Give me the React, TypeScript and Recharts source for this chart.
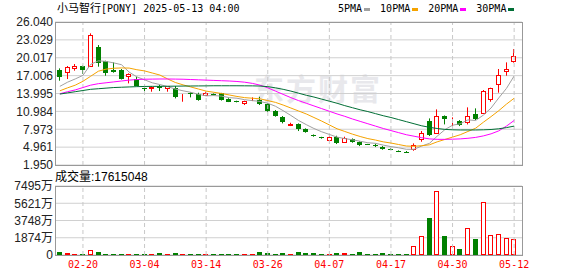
import React from 'react';
import { ComposedChart, Bar, Line, XAxis, YAxis, CartesianGrid, ReferenceLine } from 'recharts';

const RED = '#FF0000';
const GREEN = '#008000';

const dates = [
  '02-14', '02-18', '02-19', '02-20', '02-21', '02-24', '02-25', '02-26', '02-27', '02-28',
  '03-03', '03-04', '03-05', '03-06', '03-07', '03-10', '03-11', '03-12', '03-13', '03-14',
  '03-17', '03-18', '03-19', '03-20', '03-21', '03-24', '03-25', '03-26', '03-27', '03-28',
  '03-31', '04-01', '04-02', '04-03', '04-04', '04-07', '04-08', '04-09', '04-10', '04-11',
  '04-14', '04-15', '04-16', '04-17', '04-21', '04-22', '04-23', '04-24', '04-25', '04-28',
  '04-29', '04-30', '05-01', '05-02', '05-05', '05-06', '05-07', '05-08', '05-09', '05-12',
];

const opens = [
  17.95, 17.56, 18.23, 18.62, 18.68, 21.77, 19.41, 17.95, 17.95, 16.99,
  16.43, 15.0, 14.95, 15.25, 14.97, 14.97, 13.5, 14.05, 13.9, 13.68,
  13.85, 14.02, 13.12, 12.7, 12.33, 13.0, 12.89, 12.16, 11.04, 10.09,
  8.7, 8.79, 8.01, 7.0, 6.6, 6.15, 6.72, 5.87, 6.26, 5.82,
  5.5, 5.3, 5.03, 4.72, 4.3, 4.2, 4.58, 6.26, 9.36, 7.39,
  10.25, 8.86, 9.36, 9.13, 10.48, 10.76, 13.01, 15.53, 17.84, 19.52,
];
const highs = [
  18.23, 18.62, 18.96, 18.7, 24.13, 22.16, 19.52, 19.24, 18.12, 17.39,
  16.83, 15.25, 15.2, 15.42, 15.25, 15.25, 13.9, 14.19, 14.13, 14.3,
  14.0, 14.1, 13.2, 12.78, 12.78, 13.34, 13.45, 12.33, 11.21, 10.2,
  9.07, 8.96, 8.12, 7.1, 6.7, 6.88, 6.88, 6.72, 6.43, 5.93,
  5.5, 5.54, 5.14, 4.8, 4.41, 4.3, 5.59, 7.67, 9.8, 11.32,
  10.3, 9.97, 9.52, 11.66, 11.49, 14.58, 14.97, 18.12, 19.24, 21.49,
];
const lows = [
  16.15, 16.43, 17.84, 17.28, 18.6, 18.51, 16.99, 17.5, 16.35, 15.7,
  15.25, 14.41, 14.3, 14.41, 14.3, 13.17, 12.61, 13.34, 12.78, 13.57,
  13.68, 12.8, 12.55, 12.5, 12.05, 12.72, 12.05, 10.93, 10.09, 8.96,
  8.51, 7.67, 7.39, 6.72, 6.38, 5.98, 5.48, 5.7, 5.7, 5.14,
  5.35, 4.97, 4.52, 4.47, 4.13, 4.02, 4.35, 5.87, 6.83, 7.28,
  8.79, 8.51, 8.51, 8.79, 9.52, 10.65, 12.61, 14.13, 16.99, 19.19,
];
const closes = [
  16.71, 18.4, 18.62, 17.95, 23.79, 19.07, 17.39, 17.67, 16.43, 17.22,
  15.31, 14.97, 15.14, 14.97, 15.2, 13.34, 13.6, 13.98, 12.9, 14.13,
  13.8, 12.89, 12.61, 12.65, 12.78, 13.05, 12.22, 11.04, 10.2, 9.13,
  8.8, 7.95, 7.56, 6.95, 6.55, 6.6, 5.59, 6.43, 5.82, 5.26,
  5.4, 5.25, 4.69, 4.69, 4.27, 4.16, 5.26, 7.39, 7.0, 10.25,
  9.75, 8.9, 8.62, 10.25, 9.69, 14.41, 14.86, 17.11, 18.06, 20.31,
];
const volumes = [
  2900000, 2170000, 1100000, 1100000, 5070000, 3260000, 1000000, 1000000, 800000, 800000,
  1000000, 800000, 800000, 2170000, 800000, 2170000, 800000, 800000, 800000, 800000,
  800000, 800000, 800000, 800000, 800000, 800000, 2900000, 2170000, 800000, 1800000,
  1090000, 3260000, 2170000, 2170000, 1090000, 1090000, 2170000, 2170000, 1090000, 3260000,
  1090000, 1090000, 2170000, 1090000, 1090000, 1090000, 9410000, 20630000, 40190000, 69510000,
  20630000, 9780000, 6880000, 29330000, 17380000, 57570000, 21360000, 22450000, 18470000, 17615048,
];

const ma5 = [
  15.2, 15.9, 16.45, 17.05, 18.9, 19.5, 19.4, 19.15, 18.85, 17.6,
  16.8, 16.3, 15.8, 15.5, 15.15, 14.75, 14.45, 14.2, 13.85, 13.6,
  13.65, 13.55, 13.3, 13.2, 12.95, 12.8, 12.65, 12.35, 11.85, 11.1,
  10.3, 9.45, 8.75, 8.1, 7.55, 7.1, 6.65, 6.4, 6.2, 5.95,
  5.7, 5.6, 5.3, 5.05, 4.85, 4.6, 4.6, 5.15, 5.6, 6.8,
  7.9, 8.65, 8.9, 9.55, 9.45, 10.35, 11.55, 13.25, 14.85, 16.95,
];
const ma10 = [
  14.45, 14.95, 15.4, 16.05, 16.9, 17.75, 18.1, 18.25, 18.3, 18.28,
  18.0, 17.8, 17.45, 17.1, 16.45, 15.85, 15.45, 15.1, 14.75, 14.4,
  14.2, 14.0, 13.75, 13.5, 13.3, 13.2, 13.1, 12.8, 12.5, 12.05,
  11.55, 11.05, 10.55, 9.95, 9.35, 8.7, 8.05, 7.6, 7.15, 6.75,
  6.4, 6.15, 5.85, 5.65, 5.4, 5.15, 5.1, 5.2, 5.35, 5.85,
  6.25, 6.65, 7.05, 7.6, 8.15, 9.15, 10.1, 11.1, 12.2, 13.2,
];
const ma20 = [
  13.95, 14.3, 14.6, 15.0, 15.4, 15.65, 15.8, 15.95, 16.1, 16.25,
  16.35, 16.4, 16.42, 16.44, 16.44, 16.42, 16.4, 16.35, 16.3, 16.25,
  16.2, 16.15, 16.1, 16.02, 15.9, 15.7, 15.4, 14.95, 14.4, 13.85,
  13.3, 12.8, 12.35, 11.9, 11.45, 11.0, 10.55, 10.15, 9.7, 9.3,
  8.9, 8.5, 8.1, 7.75, 7.4, 7.05, 6.8, 6.55, 6.35, 6.27,
  6.27, 6.3, 6.35, 6.45, 6.6, 6.85, 7.2, 7.7, 8.5, 9.45,
];
const ma30 = [
  13.9, 14.1, 14.3, 14.5, 14.7, 14.8, 14.9, 15.0, 15.05, 15.1,
  15.15, 15.18, 15.2, 15.2, 15.22, 15.23, 15.25, 15.26, 15.27, 15.28,
  15.3, 15.3, 15.3, 15.3, 15.29, 15.28, 15.25, 15.15, 14.95, 14.7,
  14.4, 14.05, 13.7, 13.4, 13.05, 12.7, 12.35, 11.95, 11.6, 11.25,
  10.95, 10.6, 10.25, 9.95, 9.6, 9.25, 8.9, 8.55, 8.3, 8.1,
  7.95, 7.88, 7.85, 7.85, 7.85, 7.88, 7.93, 8.05, 8.25, 8.5,
];

const priceTicks = [1.95, 4.961, 7.973, 10.984, 13.995, 17.006, 20.017, 23.029, 26.04];
const volTicks = [0, 18740000, 37480000, 56210000, 74950000];
const dateTicks = ['02-20', '03-04', '03-14', '03-26', '04-07', '04-17', '04-30', '05-12'];

const rows = dates.map((d, i) => ({
  date: d,
  open: opens[i],
  high: highs[i],
  low: lows[i],
  close: closes[i],
  range: [lows[i], highs[i]],
  vol: volumes[i],
  ma5: ma5[i],
  ma10: ma10[i],
  ma20: ma20[i],
  ma30: ma30[i],
}));

const maLines = [
  { key: 'ma5', name: '5PMA', color: '#A0A0A0' },
  { key: 'ma10', name: '10PMA', color: '#F5A300' },
  { key: 'ma20', name: '20PMA', color: '#FF00FF' },
  { key: 'ma30', name: '30PMA', color: '#006E35' },
];

const Candle = (p: any) => {
  const { x, y, width, height, payload } = p;
  const { open, close, high, low } = payload;
  const top = Math.min(y, y + height);
  const h = Math.abs(height);
  const k = high > low ? h / (high - low) : 0;
  const py = (v: number) => top + (high - v) * k;
  const mid = Math.floor(x + width / 2);
  const cx = mid + 0.5;
  const up = close >= open;
  const col = up ? RED : GREEN;
  const bTop = Math.round(py(Math.max(open, close)));
  const bBot = Math.round(py(Math.min(open, close)));
  if (up) {
    return (
      <g>
        <line x1={cx} x2={cx} y1={top} y2={bTop} stroke={col} />
        <line x1={cx} x2={cx} y1={bBot} y2={top + h} stroke={col} />
        <rect x={mid - 1.5} y={bTop + 0.5} width={4} height={Math.max(bBot - bTop, 0)} fill="#fff" stroke={col} />
      </g>
    );
  }
  return (
    <g>
      <line x1={cx} x2={cx} y1={top} y2={top + h} stroke={col} />
      <rect x={mid - 2} y={bTop} width={5} height={Math.max(bBot - bTop, 1)} fill={col} />
    </g>
  );
};

const VolBar = (p: any) => {
  const { x, y, width, height, payload } = p;
  const up = payload.close >= payload.open;
  const mid = Math.floor(x + width / 2);
  const top = Math.round(y);
  const h = Math.round(height);
  if (h < 1) return null;
  if (up && h > 2) {
    return <rect x={mid - 1.5} y={top + 0.5} width={4} height={h - 1} fill="#fff" stroke={RED} />;
  }
  return <rect x={mid - 2} y={top} width={5} height={h} fill={up ? RED : GREEN} />;
};

const axisFont = { fontSize: 12, fill: '#222', fontFamily: '"Liberation Sans", Arial, "Noto Sans CJK SC"' };
const mono = '"DejaVu Sans Mono", "Noto Sans CJK SC", monospace';

export default function App() {
  return (
    <div style={{ position: 'absolute', left: 0, top: 0, width: 578, height: 276, background: '#fff', overflow: 'hidden' }}>
      <div style={{ position: 'absolute', left: 254, top: 72, fontSize: 30, letterSpacing: 2, lineHeight: '30px', color: '#E8E8EC', fontFamily: '"Noto Sans CJK SC"', fontWeight: 700 }}>
        东方财富
      </div>

      <div style={{ position: 'absolute', left: 57, top: 2, fontSize: 10, lineHeight: '14px', fontFamily: mono, color: '#000', whiteSpace: 'nowrap' }}>
        <span style={{ fontSize: 11 }}>小马智行</span>[PONY] 2025-05-13 04:00
      </div>

      <div style={{ position: 'absolute', left: 338, top: 2, fontSize: 10, lineHeight: '14px', fontFamily: mono, color: '#000', whiteSpace: 'nowrap', display: 'flex', alignItems: 'center' }}>
        {maLines.map((m, i) => (
          <span key={m.key} style={{ display: 'flex', alignItems: 'center', marginRight: i < 3 ? 10 : 0 }}>
            {m.name}
            <span style={{ display: 'inline-block', width: 6, height: 3, background: m.color, marginLeft: 2 }} />
          </span>
        ))}
      </div>

      <div style={{ position: 'absolute', left: 55, top: 170, fontSize: 12, lineHeight: '14px', fontFamily: '"Liberation Sans", Arial, "Noto Sans CJK SC"', color: '#000', whiteSpace: 'nowrap' }}>
        成交量:{volumes[volumes.length - 1]}
      </div>

      <div style={{ position: 'absolute', left: 0, top: 0 }}>
        <ComposedChart width={578} height={178} data={rows} margin={{ top: 22, right: 56, bottom: 13, left: 0 }}>
          <CartesianGrid vertical={false} stroke="#D0D0D0" />
          <XAxis dataKey="date" hide padding={{ left: 1, right: 4 }} />
          <YAxis
            domain={[1.95, 26.04]}
            ticks={priceTicks}
            interval={0}
            allowDataOverflow
            width={55}
            axisLine={false}
            tickLine={false}
            tickSize={0}
            tickMargin={2}
            tick={axisFont}
            tickFormatter={(v: number) => v.toFixed(3)}
          />
          {dateTicks.map((d) => (
            <ReferenceLine key={d} x={d} stroke="#C8C8C8" strokeDasharray="4 3" />
          ))}
          {maLines.map((m) => (
            <Line key={m.key} dataKey={m.key} stroke={m.color} strokeWidth={1} dot={false} isAnimationActive={false} type="linear" />
          ))}
          <Bar dataKey="range" barSize={5} shape={Candle} isAnimationActive={false} />
        </ComposedChart>
      </div>
      <div style={{ position: 'absolute', left: 55, top: 22, width: 466, height: 142, border: '1px solid #999', pointerEvents: 'none' }} />

      <div style={{ position: 'absolute', left: 0, top: 170 }}>
        <ComposedChart width={578} height={106} data={rows} margin={{ top: 16, right: 56, bottom: 0, left: 0 }}>
          <CartesianGrid vertical={false} stroke="#D0D0D0" />
          <XAxis
            dataKey="date"
            ticks={dateTicks}
            interval={0}
            padding={{ left: 1, right: 4 }}
            height={21}
            axisLine={false}
            tickLine={false}
            tickSize={0}
            tickMargin={6}
            tick={{ fontSize: 10, fill: RED, fontFamily: mono }}
          />
          <YAxis
            domain={[0, 74950000]}
            ticks={volTicks}
            interval={0}
            allowDataOverflow
            width={55}
            axisLine={false}
            tickLine={false}
            tickSize={0}
            tickMargin={2}
            tick={axisFont}
            tickFormatter={(v: number) => (v === 0 ? '0' : `${Math.round(v / 10000)}万`)}
          />
          {dateTicks.map((d) => (
            <ReferenceLine key={d} x={d} stroke="#C8C8C8" strokeDasharray="4 3" />
          ))}
          <Bar dataKey="vol" barSize={5} shape={VolBar} isAnimationActive={false} />
        </ComposedChart>
      </div>
      <div style={{ position: 'absolute', left: 55, top: 186, width: 466, height: 68, border: '1px solid #999', pointerEvents: 'none' }} />
    </div>
  );
}
